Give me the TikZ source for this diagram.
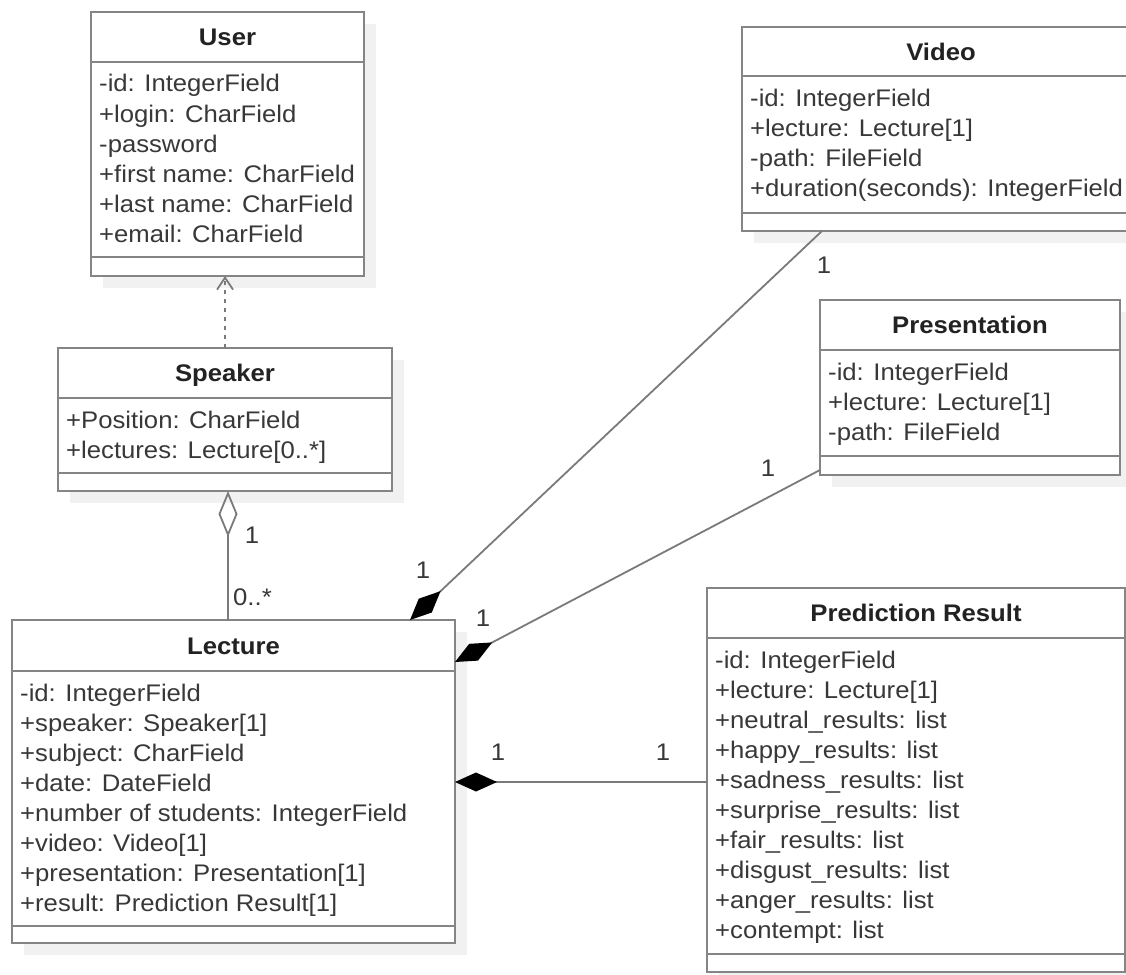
\documentclass[tikz,border=0pt]{standalone}
\usepackage{fontspec}
\setmainfont{Liberation Sans}[FakeStretch=1.07]
\usetikzlibrary{arrows.meta}
\definecolor{bordergray}{HTML}{858585}
\definecolor{linegray}{HTML}{7A7A7A}
\definecolor{txtgray}{HTML}{383838}
\definecolor{titlegray}{HTML}{222222}
\definecolor{shadowgray}{HTML}{F1F1F1}
\tikzset{
  classbox/.style={draw=bordergray, line width=2.4pt, fill=white, inner sep=0pt, outer sep=0pt, rectangle},
  boxline/.style={draw=bordergray, line width=2.4pt},
  titletext/.style={font=\fontsize{24}{28}\selectfont\bfseries, text=titlegray, inner sep=0pt},
  attrtext/.style={font=\fontsize{24}{28}\selectfont, text=txtgray, inner sep=0pt},
  multlabel/.style={font=\fontsize{24}{28}\selectfont, text=txtgray, inner sep=0pt},
  conn/.style={draw=linegray, line width=1.8pt},
  depline/.style={conn, dash pattern=on 4pt off 5pt, -{Straight Barb[length=12pt,width=16pt,line width=1.8pt]}},
  aggline/.style={conn, {Diamond[open,length=46pt,width=19pt,line width=1.8pt]}-},
  compline/.style={conn, -{Diamond[length=42pt,width=19pt,color=black,fill=black]}},
}
\newcommand\umlclass[9]{%
  \fill[shadowgray] (#2+12,#3+12) rectangle (#4+12,#7+12);
  \node[classbox, minimum width={(#4-#2)*1pt}, minimum height={(#7-#3)*1pt}, anchor=north west] (#1) at (#2,#3) {};
  \draw[boxline] (#1.west |- 0,#5) -- (#1.east |- 0,#5);
  \draw[boxline] (#1.west |- 0,#6) -- (#1.east |- 0,#6);
  \node[titletext, anchor=base] (#1-title) at ({(#2+#4)/2},{(#3+#5)/2+8.5}) {#8};
  \foreach \t [count=\i] in {#9} {\node[attrtext, anchor=base west] (#1-a\i) at (#2+8,{#5+30+30*(\i-1)}) {\t};}
}
\begin{document}
\begin{tikzpicture}[x=1pt,y=-1pt]
\useasboundingbox (0,0) rectangle (1126,974);
\clip (0,0) rectangle (1126,974);
\fill[white] (0,0) rectangle (1126,974);

\umlclass{user}{91}{12}{364}{62}{257}{276}{User}{-id: IntegerField,+login: CharField,-password,+first name: CharField,+last name: CharField,+email: CharField}
\umlclass{speaker}{58}{348}{392}{398}{473}{491}{Speaker}{+Position: CharField,+lectures: Lecture[0..*]}
\umlclass{lecture}{12}{620}{455}{671}{926}{943}{Lecture}{-id: IntegerField,+speaker: Speaker[1],+subject: CharField,+date: DateField,+number of students: IntegerField,+video: Video[1],+presentation: Presentation[1],+result: Prediction Result[1]}
\umlclass{video}{742}{27}{1140}{76}{213}{231}{Video}{-id: IntegerField,+lecture: Lecture[1],-path: FileField,+duration(seconds): IntegerField}
\umlclass{presentation}{820}{300}{1120}{350}{456}{475}{Presentation}{-id: IntegerField,+lecture: Lecture[1],-path: FileField}
\umlclass{prediction}{707}{588}{1125}{638}{954}{972}{Prediction Result}{-id: IntegerField,+lecture: Lecture[1],+neutral\_results: list,+happy\_results: list,+sadness\_results: list,+surprise\_results: list,+fair\_results: list,+disgust\_results: list,+anger\_results: list,+contempt: list}

% dependency Speaker -> User
\draw[depline] (speaker.north -| 225,0) -- (user.south -| 225,0);

% aggregation Speaker <>- Lecture
\draw[aggline] (speaker.south -| 228,0) -- (lecture.north -| 228,0);
\node[multlabel] (agg-one) at (252,535) {1};
\node[multlabel, anchor=west] (agg-many) at (233,597) {0..*};

% composition Video - Lecture
\draw[compline] (video.south -| 822,0) -- (lecture.north -| 410,0);
\node[multlabel] (vid-one-a) at (824,265) {1};
\node[multlabel] (vid-one-b) at (423,570) {1};

% composition Presentation - Lecture
\draw[compline] (presentation.west |- 0,470) -- (lecture.east |- 0,662);
\node[multlabel] (pres-one-a) at (768,468) {1};
\node[multlabel] (pres-one-b) at (483,618) {1};

% composition Prediction Result - Lecture
\draw[compline] (prediction.west |- 0,782) -- (lecture.east |- 0,782);
\node[multlabel] (pred-one-a) at (663,752) {1};
\node[multlabel] (pred-one-b) at (498,752) {1};
\end{tikzpicture}
\end{document}
